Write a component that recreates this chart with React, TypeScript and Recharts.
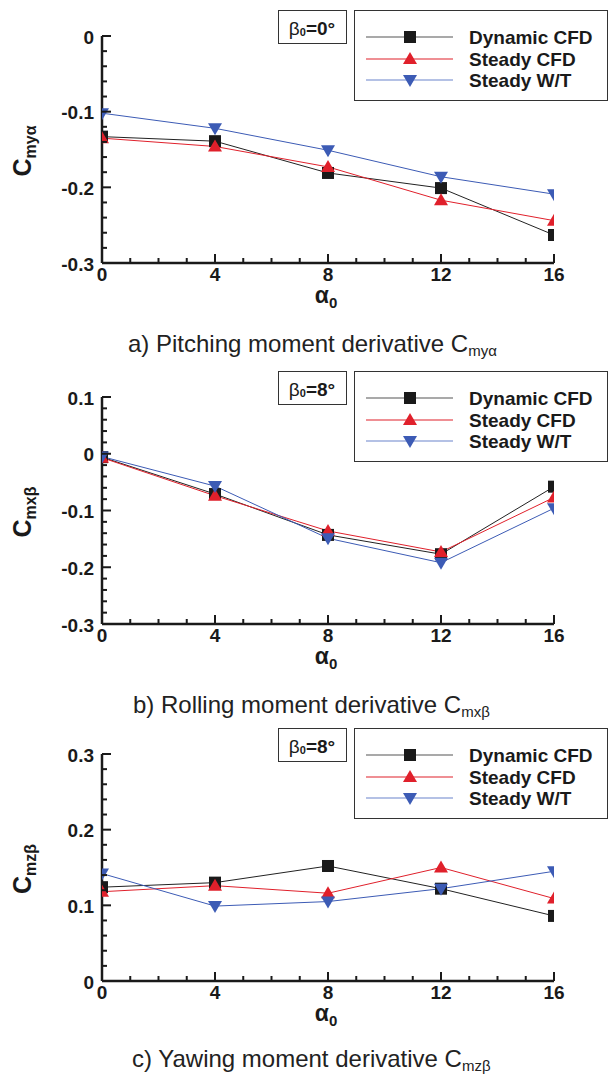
import React from 'react';
import { LineChart, Line, XAxis, YAxis, Legend } from 'recharts';

// angle of attack values (x axis)
const alpha = [0, 4, 8, 12, 16];
const xTickLabels = ['0', '4', '8', '12', '16'];

// a) pitching moment derivative, beta0 = 0 deg
const pitchDynamicCfd = [-0.133, -0.139, -0.181, -0.201, -0.263];
const pitchSteadyCfd = [-0.135, -0.146, -0.173, -0.217, -0.244];
const pitchSteadyWt = [-0.102, -0.122, -0.151, -0.186, -0.209];
const pitchTicks = [0, -0.1, -0.2, -0.3];

// b) rolling moment derivative, beta0 = 8 deg
const rollDynamicCfd = [-0.006, -0.071, -0.143, -0.177, -0.058];
const rollSteadyCfd = [-0.007, -0.074, -0.136, -0.173, -0.077];
const rollSteadyWt = [-0.005, -0.057, -0.149, -0.192, -0.096];
const rollTicks = [0.1, 0, -0.1, -0.2, -0.3];

// c) yawing moment derivative, beta0 = 8 deg
const yawDynamicCfd = [0.124, 0.13, 0.152, 0.122, 0.086];
const yawSteadyCfd = [0.118, 0.126, 0.116, 0.15, 0.109];
const yawSteadyWt = [0.142, 0.099, 0.105, 0.122, 0.145];
const yawTicks = [0.3, 0.2, 0.1, 0];

const seriesNames = ['Dynamic CFD', 'Steady CFD', 'Steady W/T'];

const FONT = "'Liberation Sans', Arial, Helvetica, sans-serif";
const BLACK = '#1a1a1a';
const RED = '#e0202b';
const BLUE = '#3c5bb5';

const buildRows = (d: number[], s: number[], w: number[]) =>
  alpha.map((a, i) => ({ alpha: a, dynamic: d[i], steadyCfd: s[i], steadyWt: w[i] }));

// minor ticks every 1 deg on x, every 0.02 on y
const xMinor = Array.from({ length: 17 }, (_, i) => i);
const yMinor = (ticks: number[]) => {
  const min = Math.min(...ticks);
  const max = Math.max(...ticks);
  const n = Math.round((max - min) / 0.02);
  return Array.from({ length: n + 1 }, (_, i) => +(min + i * 0.02).toFixed(2));
};
const isMajorY = (v: number) => Math.abs(v * 10 - Math.round(v * 10)) < 1e-6;
const fmtY = (v: number) => (Math.abs(v) < 1e-9 ? '0' : v.toFixed(1));

const XTick = (props: any) => {
  const { x, y, payload } = props;
  const v = payload.value;
  const idx = alpha.indexOf(v);
  const major = idx >= 0;
  return (
    <g>
      <line x1={x} x2={x} y1={y} y2={y - (major ? 9 : 5)} stroke={BLACK} strokeWidth={2} />
      {major && (
        <text x={x} y={y + 11} textAnchor="middle" dominantBaseline="central"
          fontFamily={FONT} fontWeight="bold" fontSize={19} fill={BLACK}>
          {xTickLabels[idx]}
        </text>
      )}
    </g>
  );
};

const YTick = (props: any) => {
  const { x, y, payload } = props;
  const v = payload.value;
  const major = isMajorY(v);
  return (
    <g>
      <line x1={x} x2={x + (major ? 9 : 5)} y1={y} y2={y} stroke={BLACK} strokeWidth={2} />
      {major && (
        <text x={x - 8} y={y + 1} textAnchor="end" dominantBaseline="central"
          fontFamily={FONT} fontWeight="bold" fontSize={19} fill={BLACK}>
          {fmtY(v)}
        </text>
      )}
    </g>
  );
};

const squareDot = (props: any) => {
  const { cx, cy, index } = props;
  return <rect key={`sq-${index}`} x={cx - 6} y={cy - 6} width={12} height={12} fill={BLACK} />;
};
const triUpDot = (props: any) => {
  const { cx, cy, index } = props;
  return <polygon key={`tu-${index}`} points={`${cx},${cy - 7} ${cx - 7},${cy + 5} ${cx + 7},${cy + 5}`} fill={RED} />;
};
const triDownDot = (props: any) => {
  const { cx, cy, index } = props;
  return <polygon key={`td-${index}`} points={`${cx - 7},${cy - 5} ${cx + 7},${cy - 5} ${cx},${cy + 7}`} fill={BLUE} />;
};

const LegendBox = ({ beta }: { beta: string }) => {
  const rows = [
    { color: '#555', marker: (cx: number, cy: number) => <rect x={cx - 6} y={cy - 6} width={12} height={12} fill={BLACK} /> },
    { color: RED, marker: (cx: number, cy: number) => <polygon points={`${cx},${cy - 7} ${cx - 7},${cy + 5} ${cx + 7},${cy + 5}`} fill={RED} /> },
    { color: '#6a84cc', marker: (cx: number, cy: number) => <polygon points={`${cx - 7},${cy - 5} ${cx + 7},${cy - 5} ${cx},${cy + 7}`} fill={BLUE} /> },
  ];
  const rowY = [27, 49, 70];
  return (
    <svg width={331} height={92} style={{ display: 'block' }}>
      <rect x={0.5} y={0.5} width={68} height={33} fill="#fff" stroke="#333" strokeWidth={1} />
      <text x={34} y={18} textAnchor="middle" dominantBaseline="central" fontFamily={FONT} fontSize={19} fill={BLACK}>
        <tspan>β</tspan>
        <tspan fontSize={11} fontWeight="bold" dy={4}>0</tspan>
        <tspan fontWeight="bold" dy={-4}>={beta}°</tspan>
      </text>
      <rect x={76.5} y={0.5} width={253} height={90} fill="#fff" stroke="#333" strokeWidth={1} />
      {rows.map((r, i) => (
        <g key={i}>
          <line x1={88} x2={175} y1={rowY[i]} y2={rowY[i]} stroke={r.color} strokeWidth={1.2} />
          {r.marker(132, rowY[i])}
          <text x={191} y={rowY[i]} dominantBaseline="central" fontFamily={FONT} fontWeight="bold" fontSize={19} fill={BLACK}>
            {seriesNames[i]}
          </text>
        </g>
      ))}
    </svg>
  );
};

interface PanelProps {
  top: number;
  rows: any[];
  ticks: number[];
  beta: string;
  sub: string;
}

const Panel = ({ top, rows, ticks, beta, sub }: PanelProps) => {
  const minY = Math.min(...ticks);
  const maxY = Math.max(...ticks);
  return (
    <div style={{ position: 'absolute', left: 0, top }}>
      <LineChart width={609} height={320} data={rows} margin={{ top: 36, right: 55, bottom: 27, left: 42 }}>
        <XAxis dataKey="alpha" type="number" domain={[0, 16]} ticks={xMinor} interval={0}
          tickSize={0} tickMargin={0} tickLine={false} tick={<XTick />} height={30}
          axisLine={{ stroke: BLACK, strokeWidth: 2.5 }} allowDataOverflow />
        <YAxis type="number" domain={[minY, maxY]} ticks={yMinor(ticks)} interval={0}
          tickSize={0} tickMargin={0} tickLine={false} tick={<YTick />} width={60}
          axisLine={{ stroke: BLACK, strokeWidth: 2.5 }} allowDataOverflow />
        <Legend layout="vertical" align="center" verticalAlign="middle"
          wrapperStyle={{ left: 278, top: 10, width: 331 }}
          content={() => <LegendBox beta={beta} />} />
        <Line type="linear" dataKey="dynamic" stroke="#222" strokeWidth={1} dot={squareDot} activeDot={false} isAnimationActive={false} />
        <Line type="linear" dataKey="steadyCfd" stroke={RED} strokeWidth={1} dot={triUpDot} activeDot={false} isAnimationActive={false} />
        <Line type="linear" dataKey="steadyWt" stroke={BLUE} strokeWidth={1} dot={triDownDot} activeDot={false} isAnimationActive={false} />
        {/* axis titles */}
        <text transform="translate(31,151) rotate(-90)" textAnchor="middle" fontFamily={FONT} fontWeight="bold" fill={BLACK}>
          <tspan fontSize={25}>C</tspan>
          <tspan fontSize={16} dy={5}>{sub}</tspan>
        </text>
        <text x={326} y={303} textAnchor="middle" fontFamily={FONT} fontWeight="bold" fill={BLACK}>
          <tspan fontSize={23}>α</tspan>
          <tspan fontSize={15} dy={5}>0</tspan>
        </text>
      </LineChart>
    </div>
  );
};

const Caption = ({ top, left, text, sub }: { top: number; left: number; text: string; sub: string }) => (
  <div style={{ position: 'absolute', top, left, whiteSpace: 'nowrap', fontFamily: FONT, fontSize: 24, lineHeight: '28px', color: '#222' }}>
    {text}C<span style={{ fontSize: 15, position: 'relative', top: 4 }}>{sub}</span>
  </div>
);

export default function App() {
  return (
    <div style={{ position: 'absolute', left: 0, top: 0, width: 609, height: 1079, background: '#fff', overflow: 'hidden' }}>
      <Panel top={0} rows={buildRows(pitchDynamicCfd, pitchSteadyCfd, pitchSteadyWt)} ticks={pitchTicks} beta="0" sub="myα" />
      <Caption top={330} left={128} text="a) Pitching moment derivative " sub="myα" />
      <Panel top={361} rows={buildRows(rollDynamicCfd, rollSteadyCfd, rollSteadyWt)} ticks={rollTicks} beta="8" sub="mxβ" />
      <Caption top={691} left={133} text="b) Rolling moment derivative " sub="mxβ" />
      <Panel top={718} rows={buildRows(yawDynamicCfd, yawSteadyCfd, yawSteadyWt)} ticks={yawTicks} beta="8" sub="mzβ" />
      <Caption top={1045} left={132} text="c) Yawing moment derivative " sub="mzβ" />
    </div>
  );
}
